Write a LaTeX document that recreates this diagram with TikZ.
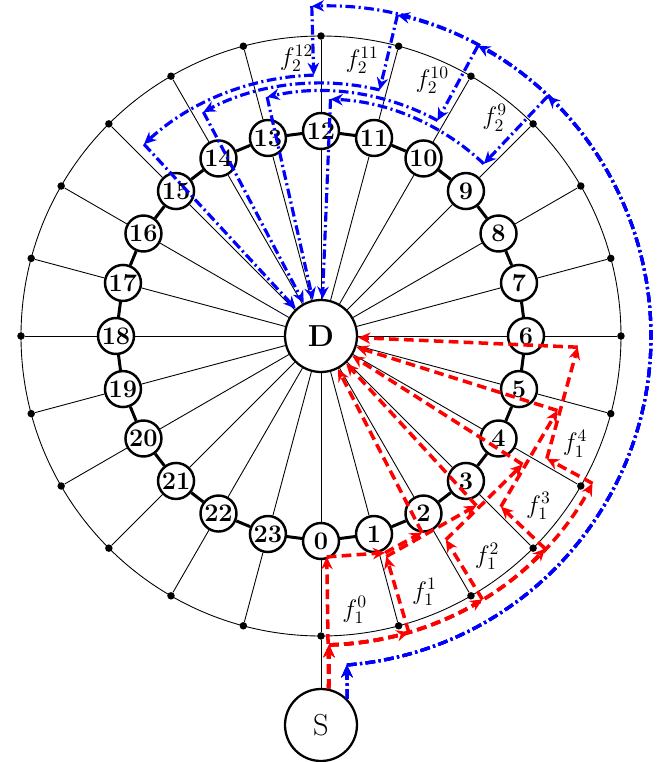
\documentclass[tikz,border=0pt]{standalone}
\usepackage{amsmath,amssymb}
\usepackage{tikz}
\usetikzlibrary{calc}
\usetikzlibrary{arrows.meta}

\def\pxu{0.02cm}

\begin{document}
\begin{tikzpicture}[
    x=0.02cm, y=0.02cm,
    vertex/.style={circle, draw=black, line width=1.4pt, fill=white, minimum size=0.72cm, inner sep=0pt, font=\Large\bfseries},
    endpoint/.style={circle, draw=black, line width=1.3pt, fill=white, minimum size=1.44cm, inner sep=0pt, font=\LARGE},
    relay/.style={circle, fill=black, inner sep=0pt, minimum size=0.15cm},
    spoke/.style={line width=0.5pt, black},
    ringedge/.style={line width=1.7pt, black},
    flowone/.style={red, line width=2pt, dash pattern=on 5.5pt off 3pt, -{Stealth[length=7pt,width=6.5pt]}},
    flowtwo/.style={blue, line width=1.8pt, dash pattern=on 5.5pt off 2pt on 1.2pt off 2pt, -{Stealth[length=7pt,width=6.5pt]}},
    flowlabel/.style={font=\Large}
]
    \useasboundingbox (-321,-426) rectangle (344,336);

    % --- outer ring
    \draw[spoke] (0,0) circle[radius={300*\pxu}];

    % --- destination and source
    \node[endpoint, font=\LARGE\bfseries] (D) at (0,0) {D};
    \node[endpoint] (S) at (0,-389) {S};

    % --- ring nodes and relays on the outer ring
    \foreach \k in {0,...,23} {
        \node[vertex] (n\k) at ({-90+15*\k}:205) {\k};
        \node[relay]  (d\k) at ({-90+15*\k}:300) {};
    }

    % --- spokes
    \foreach \k in {0,...,23} {
        \draw[spoke] (D) -- (n\k);
        \draw[spoke] (n\k) -- (d\k);
    }
    \draw[spoke] (d0) -- (S);

    % --- ring edges
    \foreach \k in {0,...,23} {
        \pgfmathtruncatemacro\nxt{mod(\k+1,24)}
        \draw[ringedge] (n\k) -- (n\nxt);
    }

    % --- flow 1 (red)
    \draw[flowone] (S.78) -- (-88.5:221);
    \draw[flowone] (-88.5:221) -- (-73.5:226);
    \draw[flowone] (-73.5:226) -- (-62.8:221);
    \draw[flowone] (-62.8:221) -- (D);
    \foreach \k in {1,...,4} {
        \pgfmathsetmacro\a{-90+15*\k+1.5}
        \pgfmathsetmacro\r{221+9*\k}
        \pgfmathsetmacro\b{-90+15*(\k+2)-2.5}
        \draw[flowone] (S.78) -- (-88.5:309);
        \draw[flowone] (-88.5:309) arc[start angle=-88.5, end angle=\a, radius={309*\pxu}];
        \draw[flowone] (\a:309) -- (\a:\r);
        \draw[flowone] (\a:\r) -- (\b:\r);
        \draw[flowone] (\b:\r) -- (D);
    }

    % --- flow 2 (blue)
    \foreach \k in {9,...,12} {
        \pgfmathsetmacro\a{-90+15*\k+1.6}
        \pgfmathsetmacro\r{237+8*(\k-9)}
        \pgfmathsetmacro\b{-90+15*(\k+3)-2.3}
        \draw[flowtwo] (S.45) -- (-85.5:330);
        \draw[flowtwo] (-85.5:330) arc[start angle=-85.5, end angle=\a, radius={330*\pxu}];
        \draw[flowtwo] (\a:330) -- (\a:\r);
        \draw[flowtwo] (\a:\r) arc[start angle=\a, end angle=\b, radius={\r*\pxu}];
        \draw[flowtwo] (\b:\r) -- (D);
    }

    % --- labels
    \foreach \k in {0,...,4} {
        \node[flowlabel] (fa\k) at ({-90+15*\k+7}:276) {$f_1^{\k}$};
    }
    \foreach \k in {9,...,11} {
        \node[flowlabel] (fb\k) at ({-90+15*\k+6.5}:279) {$f_2^{\k}$};
    }
    \node[flowlabel] (fb12) at (95:279) {$f_2^{12}$};

\end{tikzpicture}
\end{document}
